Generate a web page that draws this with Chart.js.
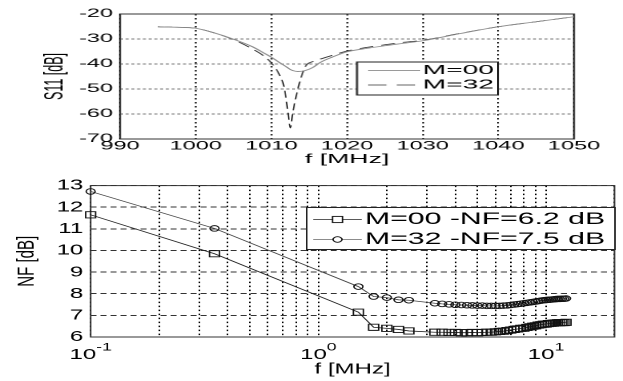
<!DOCTYPE html>
<html><head><meta charset="utf-8">
<script src="https://cdn.jsdelivr.net/npm/chart.js@4.4.1/dist/chart.umd.min.js"></script>
<style>
html,body{margin:0;padding:0;background:#fff;}
#wrap{position:relative;width:623px;height:381px;overflow:hidden;background:#fff;}
.panel{position:absolute;left:0;transform-origin:0 0;}
#p1{top:0;width:304px;height:172px;transform:scaleX(2.0493);}
#p2{top:172px;width:389px;height:209px;transform:scaleX(1.6015);}
</style></head><body>
<div id="wrap">
<div class="panel" id="p1"><canvas id="c1" width="304" height="172"></canvas></div>
<div class="panel" id="p2"><canvas id="c2" width="389" height="209"></canvas></div>
</div>
<script>
// ---------- data: S11 (top panel) ----------
const s11Freq = [995, 997.5, 1000, 1002.5, 1005, 1007.5, 1009, 1010, 1011, 1011.7, 1012.2, 1012.5, 1012.8, 1013.5, 1014.5, 1015.4, 1016.5, 1018, 1020, 1022.5, 1025, 1027.5, 1030, 1035, 1040, 1045, 1050];
const s11M00 = [-25.1, -25.3, -25.7, -27.6, -30.1, -33.1, -35.6, -37.3, -39.3, -40.6, -41.6, -42.2, -42.6, -43.0, -42.6, -41.5, -39.3, -37.3, -35.1, -33.8, -32.7, -31.7, -30.7, -27.8, -25.1, -23.1, -21.1];
const s11M32 = [-25.1, -25.3, -25.7, -27.6, -30.3, -34.0, -36.8, -39.6, -44.0, -49.6, -59.6, -65.6, -60.0, -50.0, -41.0, -39.1, -38.0, -36.6, -34.8, -33.4, -32.3, -31.3, -30.5, -27.7, -25.1, -23.1, -21.1];
const s11XTicks = [990, 1000, 1010, 1020, 1030, 1040, 1050];
const s11YTicks = [-70, -60, -50, -40, -30, -20];
const s11Legend = ['M=00', 'M=32'];

// ---------- data: NF (bottom panel) ----------
const nfFreq = [0.1, 0.35, 1.5, 1.75, 2.0, 2.25, 2.5, 3.25, 3.5, 3.75, 4.0, 4.25, 4.5, 4.75, 5.0, 5.25, 5.5, 5.75, 6.0, 6.25, 6.5, 6.75, 7.0, 7.25, 7.5, 7.75, 8.0, 8.25, 8.5, 8.75, 9.0, 9.25, 9.5, 9.75, 10.0, 10.25, 10.5, 10.75, 11.0, 11.25, 11.5, 11.75, 12.0, 12.25];
const nfM00 = [11.65, 9.85, 7.15, 6.45, 6.4, 6.35, 6.28, 6.22, 6.22, 6.21, 6.21, 6.2, 6.2, 6.21, 6.2, 6.21, 6.22, 6.22, 6.24, 6.26, 6.27, 6.3, 6.32, 6.35, 6.37, 6.4, 6.41, 6.44, 6.47, 6.5, 6.52, 6.55, 6.57, 6.59, 6.6, 6.62, 6.63, 6.64, 6.65, 6.66, 6.66, 6.67, 6.67, 6.68];
const nfM32 = [12.73, 11.02, 8.33, 7.87, 7.82, 7.72, 7.7, 7.56, 7.53, 7.51, 7.49, 7.48, 7.47, 7.46, 7.45, 7.45, 7.44, 7.44, 7.44, 7.44, 7.45, 7.46, 7.48, 7.5, 7.52, 7.54, 7.56, 7.58, 7.6, 7.62, 7.64, 7.66, 7.68, 7.7, 7.71, 7.72, 7.73, 7.74, 7.75, 7.76, 7.76, 7.77, 7.77, 7.78];
const nfXGrid = [0.1, 0.2, 0.3, 0.4, 0.5, 0.6, 0.7, 0.8, 0.9, 1, 2, 3, 4, 5, 6, 7, 8, 9, 10, 20];
const nfXMajor = [0.1, 1, 10];
const nfXMajorBase = ['10', '10', '10'];
const nfXMajorExp = ['-1', '0', '1'];
const nfYTicks = [6, 7, 8, 9, 10, 11, 12, 13];
const nfLegend = ['M=00 -NF=6.2 dB', 'M=32 -NF=7.5 dB'];

const FF = "'Liberation Sans', Arial, Helvetica, sans-serif";
const pts = (xs, ys) => xs.map((x, i) => ({x: x, y: ys[i]}));

const framePlugin = {
  id: 'frame',
  beforeDatasetsDraw(chart) {
    const a = chart.chartArea, ctx = chart.ctx;
    ctx.save();
    ctx.setLineDash([]);
    ctx.strokeStyle = '#333';
    ctx.lineWidth = 1;
    ctx.strokeRect(a.left, a.top, a.right - a.left, a.bottom - a.top);
    ctx.restore();
  }
};

function drawLegend(chart, o) {
  const ctx = chart.ctx;
  ctx.save();
  ctx.setLineDash([]);
  ctx.fillStyle = '#fff';
  ctx.fillRect(o.x0, o.y0, o.x1 - o.x0, o.y1 - o.y0);
  ctx.strokeStyle = '#222';
  ctx.lineWidth = 1;
  ctx.strokeRect(o.x0, o.y0, o.x1 - o.x0, o.y1 - o.y0);
  o.items.forEach((it, i) => {
    const y = o.rows[i];
    ctx.strokeStyle = it.color;
    ctx.lineWidth = it.width;
    ctx.setLineDash(it.dash || []);
    ctx.beginPath(); ctx.moveTo(o.lx0, y); ctx.lineTo(o.lx1, y); ctx.stroke();
    ctx.setLineDash([]);
    const mx = (o.lx0 + o.lx1) / 2;
    ctx.strokeStyle = '#111';
    ctx.lineWidth = 0.9;
    if (it.marker === 'rect') {
      const s = it.size;
      ctx.fillStyle = '#fff';
      ctx.fillRect(mx - s / 2, y - s / 2, s, s);
      ctx.strokeRect(mx - s / 2, y - s / 2, s, s);
    } else if (it.marker === 'circle') {
      ctx.fillStyle = '#fff';
      ctx.beginPath(); ctx.arc(mx, y, it.size / 2, 0, Math.PI * 2); ctx.fill(); ctx.stroke();
    }
    ctx.font = o.font;
    ctx.fillStyle = '#000';
    ctx.textBaseline = 'middle';
    ctx.textAlign = 'left';
    const w = ctx.measureText(it.text).width;
    ctx.save();
    ctx.translate(o.tx, y);
    ctx.scale(o.tw / w, 1);
    ctx.fillText(it.text, 0, 0);
    ctx.restore();
  });
  ctx.restore();
}

// ---------- top chart ----------
new Chart(document.getElementById('c1'), {
  type: 'line',
  data: {
    datasets: [
      {label: s11Legend[0], data: pts(s11Freq, s11M00), borderColor: '#8c8c8c', borderWidth: 0.9, pointRadius: 0, cubicInterpolationMode: 'monotone', fill: false},
      {label: s11Legend[1], data: pts(s11Freq, s11M32), borderColor: '#333', borderWidth: 0.75, borderDash: [7, 4], pointRadius: 0, cubicInterpolationMode: 'monotone', fill: false}
    ]
  },
  options: {
    responsive: false, animation: false, events: [], devicePixelRatio: 2,
    layout: {padding: {left: 19.3, right: 23.9, top: 14, bottom: 0}},
    plugins: {legend: {display: false}, tooltip: {enabled: false}},
    scales: {
      x: {
        type: 'linear', min: 990, max: 1050,
        afterBuildTicks: s => { s.ticks = s11XTicks.map(v => ({value: v})); },
        afterFit: s => { s.height = 33; },
        ticks: {font: {family: FF, size: 11.5}, color: '#000', padding: 0.6, maxRotation: 0, autoSkip: false, callback: v => String(v)},
        grid: {color: '#000', lineWidth: 0.8, drawTicks: false},
        border: {display: false, dash: [1.5, 2.5]},
        title: {display: true, text: 'f [MHz]', font: {family: FF, size: 13}, color: '#000', padding: {top: 0, bottom: 4.7}}
      },
      y: {
        type: 'linear', min: -70, max: -20,
        afterBuildTicks: s => { s.ticks = s11YTicks.map(v => ({value: v})); },
        afterFit: s => { s.width = 39.3; },
        ticks: {font: {family: FF, size: 11.5}, color: '#000', padding: 3.4, autoSkip: false, callback: v => String(v)},
        grid: {color: '#777', lineWidth: 1, drawTicks: false},
        border: {display: false, dash: [1.5, 1.3]},
        title: {display: true, text: 'S11 [dB]', font: {family: FF, size: 12.5}, color: '#000', padding: {top: 0, bottom: 0}}
      }
    }
  },
  plugins: [framePlugin, {
    id: 'legend1',
    afterDraw(chart) {
      drawLegend(chart, {
        x0: 174.2, x1: 243.0, y0: 62, y1: 95, rows: [70.6, 85],
        lx0: 179.6, lx1: 205.0, tx: 206.3, tw: 34.7, font: '13px ' + FF,
        items: [
          {text: s11Legend[0], color: '#8c8c8c', width: 0.9},
          {text: s11Legend[1], color: '#333', width: 0.75, dash: [9, 5]}
        ]
      });
    }
  }]
});

// ---------- bottom chart ----------
new Chart(document.getElementById('c2'), {
  type: 'line',
  data: {
    datasets: [
      {label: nfLegend[0], data: pts(nfFreq, nfM00), borderColor: '#222', borderWidth: 0.8, pointStyle: 'rect', pointRadius: 4.4, pointBorderColor: '#111', pointBorderWidth: 0.9, pointBackgroundColor: 'rgba(255,255,255,0)', tension: 0, fill: false, clip: false},
      {label: nfLegend[1], data: pts(nfFreq, nfM32), borderColor: '#444', borderWidth: 0.8, pointStyle: 'circle', pointRadius: 2.8, pointBorderColor: '#111', pointBorderWidth: 0.9, pointBackgroundColor: 'rgba(255,255,255,0)', tension: 0, fill: false, clip: false}
    ]
  },
  options: {
    responsive: false, animation: false, events: [], devicePixelRatio: 2,
    layout: {padding: {left: 7.9, right: 1.9, top: 12, bottom: 0}},
    plugins: {legend: {display: false}, tooltip: {enabled: false}},
    scales: {
      x: {
        type: 'logarithmic', min: 0.1, max: 20,
        afterBuildTicks: s => { s.ticks = nfXGrid.map(v => ({value: v})); },
        afterFit: s => { s.height = 44; },
        ticks: {display: false, autoSkip: false},
        grid: {color: '#000', lineWidth: 1, drawTicks: false},
        border: {display: false, dash: [1.5, 2.5]},
        title: {display: true, text: 'f [MHz]', font: {family: FF, size: 15}, color: '#000', padding: {top: 0, bottom: 2.5}}
      },
      y: {
        type: 'linear', min: 6, max: 13,
        afterBuildTicks: s => { s.ticks = nfYTicks.map(v => ({value: v})); },
        afterFit: s => { s.width = 48.7; },
        ticks: {font: {family: FF, size: 15}, color: '#000', padding: 4.6, autoSkip: false, callback: v => String(v)},
        grid: {color: '#333', lineWidth: 1, drawTicks: false},
        border: {display: false, dash: [3.75, 2.5]},
        title: {display: true, text: 'NF [dB]', font: {family: FF, size: 15}, color: '#000', padding: {top: 0, bottom: 0}}
      }
    }
  },
  plugins: [framePlugin, {
    id: 'logLabels',
    afterDraw(chart) {
      const xs = chart.scales.x, ctx = chart.ctx, b = chart.chartArea.bottom;
      ctx.save();
      ctx.fillStyle = '#000';
      ctx.textBaseline = 'alphabetic';
      ctx.textAlign = 'left';
      nfXMajor.forEach((v, i) => {
        ctx.font = '15px ' + FF;
        const wb = ctx.measureText(nfXMajorBase[i]).width;
        ctx.font = '11px ' + FF;
        const we = ctx.measureText(nfXMajorExp[i]).width;
        const x0 = xs.getPixelForValue(v) - (wb + we) / 2;
        ctx.font = '15px ' + FF;
        ctx.fillText(nfXMajorBase[i], x0, b + 22.2);
        ctx.font = '11px ' + FF;
        ctx.fillText(nfXMajorExp[i], x0 + wb, b + 13.3);
      });
      ctx.restore();
    }
  }, {
    id: 'legend2',
    afterDraw(chart) {
      drawLegend(chart, {
        x0: 191.5, x1: 384.0, y0: 35.5, y1: 77.5, rows: [47.5, 67.5],
        lx0: 195.6, lx1: 225.9, tx: 227.9, tw: 149.9, font: '17px ' + FF,
        items: [
          {text: nfLegend[0], color: '#222', width: 0.8, marker: 'rect', size: 6.2},
          {text: nfLegend[1], color: '#666', width: 0.8, marker: 'circle', size: 5.6}
        ]
      });
    }
  }]
});
</script>
</body></html>
